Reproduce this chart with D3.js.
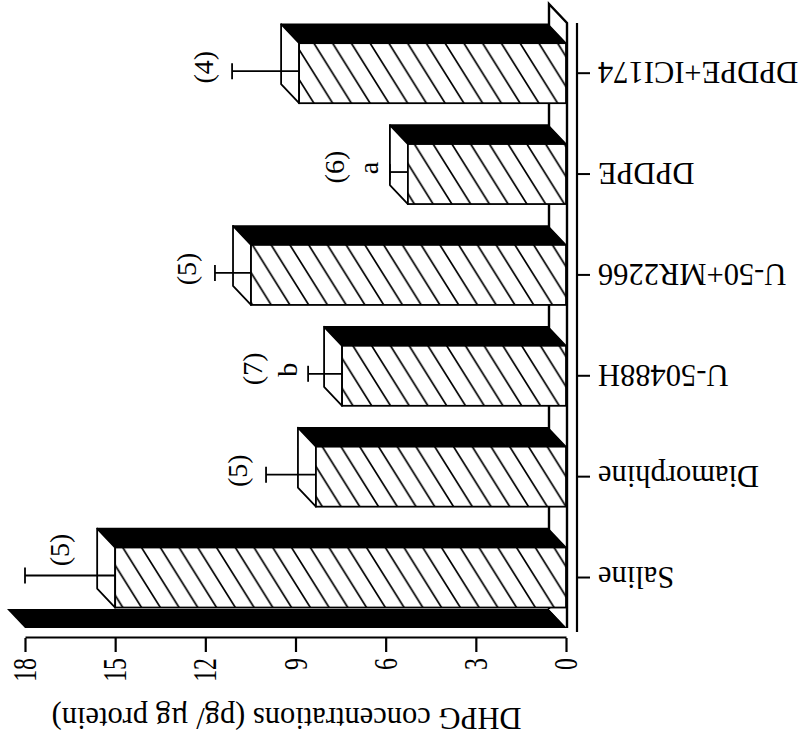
<!DOCTYPE html>
<html>
<head>
<meta charset="utf-8">
<script src="https://cdn.jsdelivr.net/npm/d3@7"></script>
<style>
  html, body { margin: 0; padding: 0; background: #fff; }
  svg { display: block; }
  text { font-family: "Liberation Serif", "Times New Roman", serif; fill: #000; }
</style>
</head>
<body>
<svg id="chart" width="802" height="741"></svg>
<script>
// ---- data ----
const categories = ["Saline", "Diamorphine", "U-50488H", "U-50+MR2266", "DPDPE", "DPDPE+ICI174"];
const means      = [15.0, 8.32, 7.45, 10.48, 5.26, 8.88];
const errors     = [3.0, 1.66, 1.13, 1.2, 0.6, 2.23];
const nLabels    = ["(5)", "(5)", "(7)", "(5)", "(6)", "(4)"];
const sigLabels  = ["", "", "b", "", "a", ""];
const yTicks     = [0, 3, 6, 9, 12, 15, 18];
const yTitle     = "DHPG concentrations (pg/ \u00b5g protein)";

const rows = categories.map((c, i) => ({ cat: c, mean: means[i], err: errors[i], n: nLabels[i], sig: sigLabels[i] }));

// ---- layout (drawn as an upright vertical bar chart, then turned 90° counter-clockwise) ----
const svg = d3.select("#chart");
const defs = svg.append("defs");
const TW = 30, TH = 18.75;   // hatch tile
const hatch = defs.append("pattern")
  .attr("id", "hatch")
  .attr("patternUnits", "userSpaceOnUse")
  .attr("width", TW).attr("height", TH);
hatch.append("rect").attr("width", TW).attr("height", TH).attr("fill", "#fff");
hatch.append("path")
  .attr("d", `M-3,${TH + 1.875} L${TW + 3},-1.875 M-3,1.875 L3,-1.875 M${TW - 3},${TH + 1.875} L${TW + 3},${TH - 1.875}`)
  .attr("stroke", "#000").attr("stroke-width", 1.7).attr("fill", "none");

const g = svg.append("g").attr("transform", "translate(0,741) rotate(-90)");

const y = d3.scaleLinear().domain([0, 18]).range([566, 25]);
const x = d3.scaleBand().domain(categories).range([113.3, 718]).paddingInner(0.405).paddingOuter(0.2);
const DX = 19, DY = -18;       // 3-D depth offset
const floorY = y(0);

// back wall (black, left side)
g.append("path")
  .attr("d", `M113,${y(18)} L113,${floorY + 1} L${113 + DX},${floorY + 1 + DY} L${113 + DX},${y(18) + DY} Z`)
  .attr("fill", "#000");

// floor (white, bottom)
g.append("path")
  .attr("d", `M113,${floorY + 1} L718,${floorY + 1} L${718 + DX},${floorY + 1 + DY} L${113 + DX},${floorY + 1 + DY}`)
  .attr("fill", "#fff").attr("stroke", "#000").attr("stroke-width", 2.4).attr("stroke-linejoin", "miter");

// bars
const bars = g.append("g").selectAll("g").data(rows).join("g");
// side (dark) face
bars.append("path")
  .attr("d", d => {
    const x1 = x(d.cat) + x.bandwidth(), yt = y(d.mean);
    return `M${x1},${yt} L${x1 + DX},${yt + DY} L${x1 + DX},${floorY + DY} L${x1},${floorY} Z`;
  })
  .attr("fill", "#000").attr("stroke", "#000").attr("stroke-width", 1.5).attr("stroke-linejoin", "round");
// top face
bars.append("path")
  .attr("d", d => {
    const x0 = x(d.cat), x1 = x0 + x.bandwidth(), yt = y(d.mean);
    return `M${x0},${yt} L${x1},${yt} L${x1 + DX},${yt + DY} L${x0 + DX},${yt + DY} Z`;
  })
  .attr("fill", "#fff").attr("stroke", "#000").attr("stroke-width", 1.8).attr("stroke-linejoin", "round");
// front face
bars.append("rect")
  .attr("x", d => x(d.cat))
  .attr("y", d => y(d.mean))
  .attr("width", x.bandwidth())
  .attr("height", d => floorY - y(d.mean))
  .attr("fill", "url(#hatch)")
  .attr("stroke", "#000").attr("stroke-width", 1.8);

// error bars
const eb = g.append("g").attr("stroke", "#000").attr("stroke-width", 1.8)
  .selectAll("g").data(rows).join("g")
  .attr("transform", d => `translate(${x(d.cat) + x.bandwidth() / 2 + 2},0)`);
eb.append("line").attr("x1", 0).attr("x2", 0)
  .attr("y1", d => y(d.mean)).attr("y2", d => y(d.mean + d.err));
eb.append("line").attr("x1", -8).attr("x2", 8)
  .attr("y1", d => y(d.mean + d.err)).attr("y2", d => y(d.mean + d.err));

// group size and significance labels
const ann = g.append("g").selectAll("g").data(rows).join("g");
ann.each(function (d) {
  const sel = d3.select(this);
  const cx = x(d.cat) + x.bandwidth() / 2;
  const cap = y(d.mean + d.err);
  if (cap - 45 < y(18)) {
    sel.append("text").attr("x", cx + 27.5).attr("y", cap + 44)
      .attr("text-anchor", "middle").attr("font-size", 28).text(d.n);
  } else if (d.sig) {
    sel.append("text").attr("x", cx + 6).attr("y", cap - 11.5)
      .attr("text-anchor", "middle").attr("font-size", 28).text(d.sig);
    sel.append("text").attr("x", cx + 7).attr("y", cap - 46)
      .attr("text-anchor", "middle").attr("font-size", 28).text(d.n);
  } else {
    sel.append("text").attr("x", cx + 6).attr("y", cap - 19)
      .attr("text-anchor", "middle").attr("font-size", 28).text(d.n);
  }
});

// value axis
const yAxis = g.append("g").attr("transform", "translate(103,0)")
  .call(d3.axisLeft(y).tickValues(yTicks).tickSize(14).tickSizeOuter(0).tickFormat(d3.format("d")));
yAxis.select(".domain").attr("stroke-width", 2.2);
yAxis.selectAll(".tick line").attr("stroke-width", 2.2);
yAxis.selectAll(".tick text")
  .attr("font-family", "Liberation Serif, Times New Roman, serif")
  .attr("font-size", 33)
  .attr("x", -20 / 0.72)
  .attr("transform", "scale(0.72,1)");

// category axis
const xAxis = g.append("g").attr("transform", "translate(0,577)")
  .call(d3.axisBottom(x).tickSize(13).tickSizeOuter(0));
xAxis.select(".domain").attr("d", "M109,0H718").attr("stroke-width", 2.2);
xAxis.selectAll(".tick line").attr("stroke-width", 2);
xAxis.selectAll(".tick text")
  .attr("font-family", "Liberation Serif, Times New Roman, serif")
  .attr("font-size", 30.5)
  .attr("text-anchor", "end")
  .attr("transform", "rotate(-90)")
  .attr("x", -21).attr("y", 0).attr("dy", "0.36em");

// axis title
g.append("text")
  .attr("transform", `translate(33,${(y(0) + y(18)) / 2 - 9}) rotate(-90)`)
  .attr("text-anchor", "middle")
  .attr("font-size", 30.5)
  .text(yTitle);
</script>
</body>
</html>
